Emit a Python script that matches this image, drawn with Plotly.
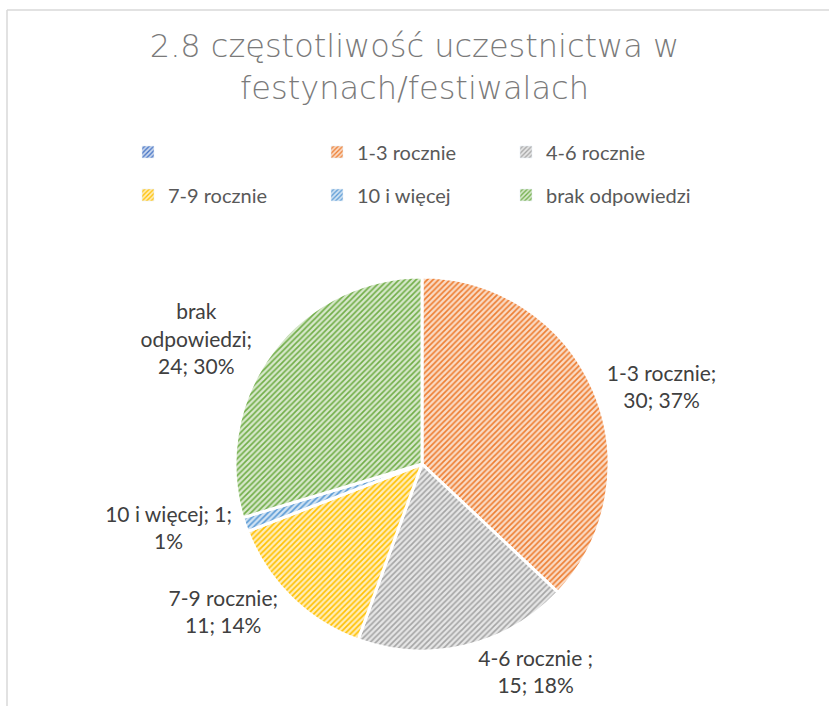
import plotly.graph_objects as go

# ---- data ----
categories = ["", "1-3 rocznie", "4-6 rocznie ", "7-9 rocznie", "10 i więcej", "brak odpowiedzi"]
values = [0, 30, 15, 11, 1, 24]
percent_labels = ["", "37%", "18%", "14%", "1%", "30%"]
label_wrapped = ["", "1-3 rocznie", "4-6 rocznie ", "7-9 rocznie", "10 i więcej", "brak<br>odpowiedzi"]
break_after_label = ["", "<br>", "<br>", "<br>", " ", "<br>"]
break_after_value = ["", " ", " ", " ", "<br>", " "]
colors = ["#4472C4", "#ED7D31", "#A5A5A5", "#FFC000", "#5B9BD5", "#70AD47"]

title_text = "2.8 częstotliwość uczestnictwa w<br>festynach/festiwalach"


def tint(hex_color, f):
    h = hex_color.lstrip("#")
    r, g, b = (int(h[i:i + 2], 16) for i in (0, 2, 4))
    r, g, b = (round(c + (255 - c) * f) for c in (r, g, b))
    return f"#{r:02X}{g:02X}{b:02X}"


bg_colors = [tint(c, 0.72) for c in colors]

texts = []
for lab, b1, v, b2, p in zip(label_wrapped, break_after_label, values, break_after_value, percent_labels):
    texts.append("" if v == 0 else f"{lab};{b1}{v};{b2}{p}")

FONT = "Lato"
W, H = 829, 706
cx, cy, R = 422, 464, 187

fig = go.Figure()

fig.add_trace(go.Pie(
    labels=categories,
    values=values,
    text=texts,
    textinfo="text",
    textposition="outside",
    sort=False,
    direction="clockwise",
    rotation=0,
    showlegend=False,
    marker=dict(
        colors=colors,
        line=dict(color="white", width=3),
        pattern=dict(shape="/", fillmode="replace", fgcolor=colors,
                     bgcolor=bg_colors, size=4, solidity=0.4),
    ),
    outsidetextfont=dict(family=FONT, size=21, color="#404040"),
    domain=dict(x=[(cx - R) / W, (cx + R) / W], y=[1 - (cy + R) / H, 1 - (cy - R) / H]),
    hoverinfo="label+value+percent",
))

# legend entries (two rows of three)
for i, (cat, col, bg) in enumerate(zip(categories, colors, bg_colors)):
    fig.add_trace(go.Bar(
        x=[None], y=[None],
        name=cat.strip() if cat.strip() else " ",
        marker=dict(color=col,
                    pattern=dict(shape="/", fillmode="replace", fgcolor=col,
                                 bgcolor=bg, size=4, solidity=0.4)),
        legend="legend" if i < 3 else "legend2",
        showlegend=True,
        hoverinfo="skip",
    ))

legend_common = dict(
    orientation="h",
    xanchor="left",
    yanchor="middle",
    font=dict(family=FONT, size=20, color="#595959"),
    entrywidth=144,
    entrywidthmode="pixels",
    itemwidth=30,
    bgcolor="rgba(0,0,0,0)",
    traceorder="normal",
    itemclick=False,
    itemdoubleclick=False,
)

fig.update_layout(
    width=W, height=H,
    paper_bgcolor="white",
    plot_bgcolor="white",
    margin=dict(l=0, r=0, t=0, b=0),
    title=dict(
        text=title_text,
        x=0.5, xanchor="center",
        y=1 - 57 / H, yanchor="top", yref="container",
        font=dict(family="DejaVu Sans", size=32, color="#7A7A7A", weight=200),
    ),
    legend=dict(x=128 / W, y=1 - 152 / H, **legend_common),
    legend2=dict(x=128 / W, y=1 - 195 / H, **legend_common),
    xaxis=dict(visible=False),
    yaxis=dict(visible=False),
    shapes=[
        dict(type="line", xref="paper", yref="paper", x0=7 / W, x1=1, y0=1 - 10 / H, y1=1 - 10 / H,
             line=dict(color="#D9D9D9", width=1.5)),
        dict(type="line", xref="paper", yref="paper", x0=7 / W, x1=7 / W, y0=0, y1=1 - 10 / H,
             line=dict(color="#D9D9D9", width=1.5)),
    ],
)

fig.write_html("out.html", config={"displayModeBar": False},
               post_script="document.body.style.margin='0';document.body.style.overflow='hidden';")
